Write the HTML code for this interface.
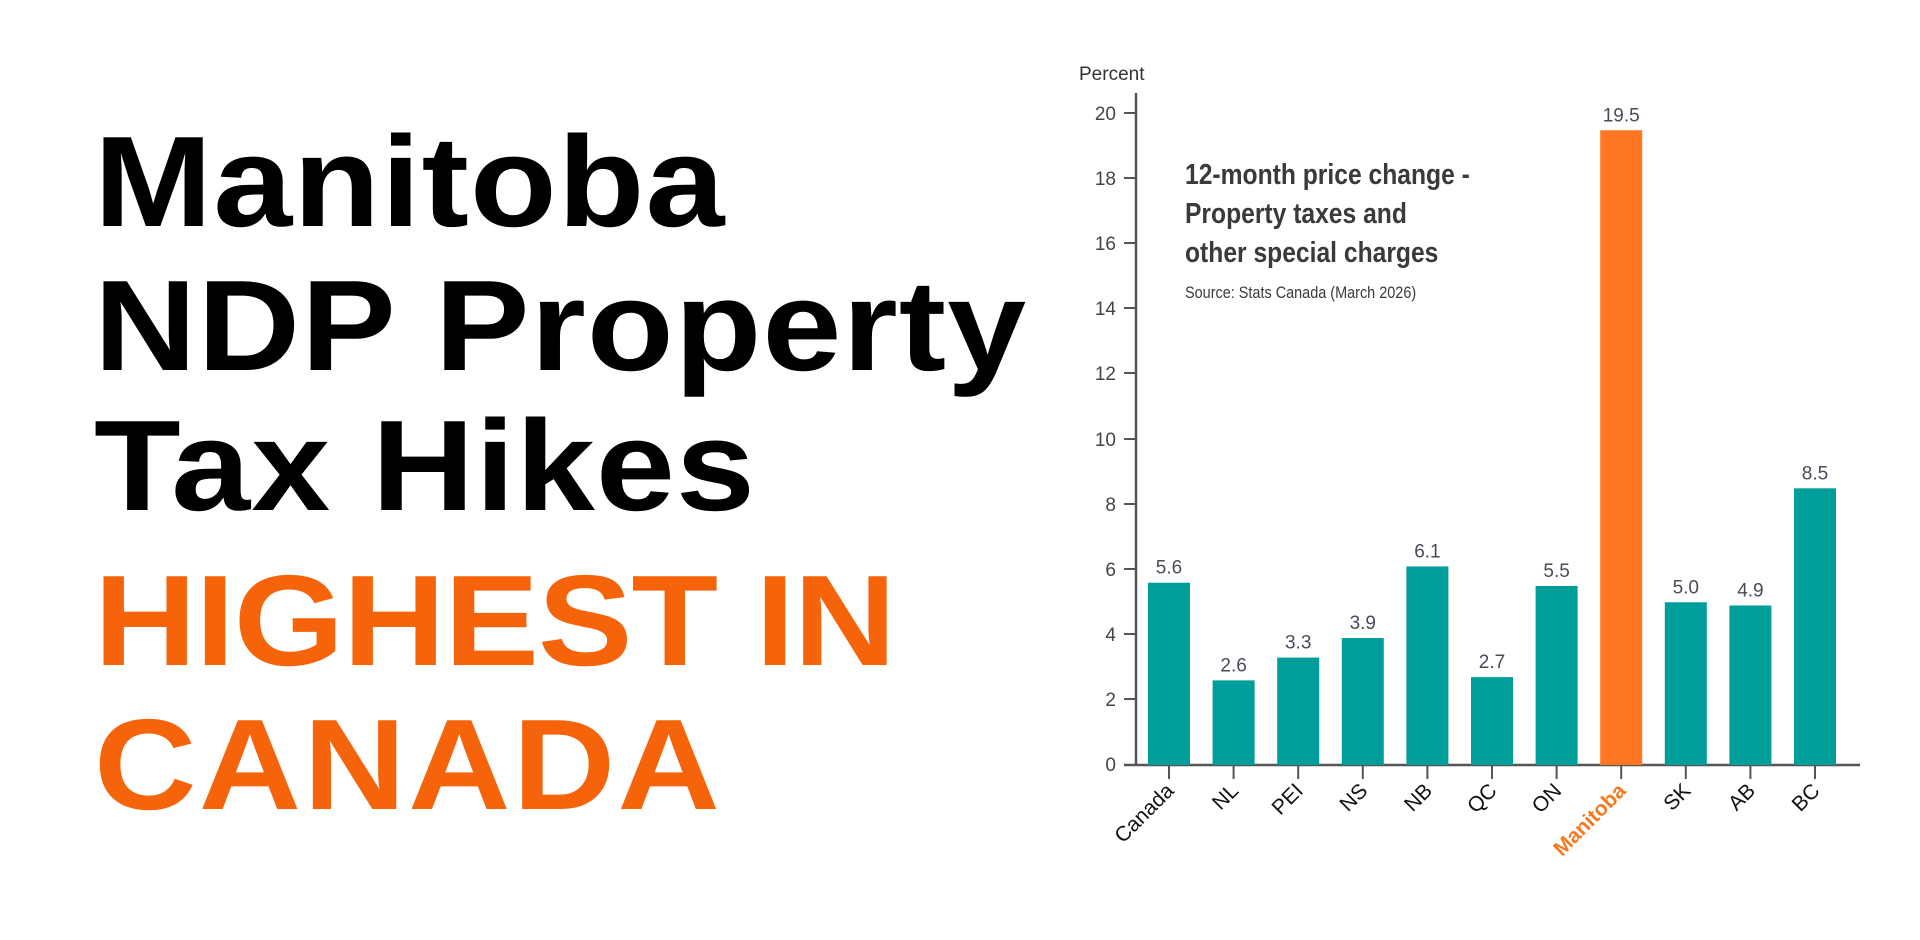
<!DOCTYPE html>
<html><head><meta charset="utf-8"><style>
html,body{margin:0;padding:0;background:#fff;width:1920px;height:940px;overflow:hidden}
.h{position:absolute;left:94px;font-family:"Liberation Sans",sans-serif;font-weight:bold;font-size:129px;line-height:1;white-space:nowrap;transform:scaleX(1.1);transform-origin:0 0}
</style></head><body>
<div class="h" style="top:118px;color:#000;letter-spacing:1px">Manitoba</div>
<div class="h" style="top:262px;color:#000;letter-spacing:1px">NDP Property</div>
<div class="h" style="top:402px;color:#000;letter-spacing:1px">Tax Hikes</div>
<div class="h" style="top:557px;color:#f5630a;letter-spacing:-1px">HIGHEST IN</div>
<div class="h" style="top:701px;color:#f5630a;letter-spacing:2px">CANADA</div>
<svg width="1920" height="940" style="position:absolute;left:0;top:0" font-family="Liberation Sans, sans-serif">
<text x="1079" y="80" font-size="19" fill="#333">Percent</text>
<line x1="1136" y1="93" x2="1136" y2="765" stroke="#555" stroke-width="2.5"/>
<line x1="1124" y1="765" x2="1860" y2="765" stroke="#555" stroke-width="2.5"/>
<g font-size="19" fill="#444" text-anchor="end">
<text x="1116" y="120">20</text><text x="1116" y="185">18</text><text x="1116" y="250">16</text><text x="1116" y="315">14</text><text x="1116" y="380">12</text><text x="1116" y="446">10</text><text x="1116" y="511">8</text><text x="1116" y="576">6</text><text x="1116" y="641">4</text><text x="1116" y="706">2</text><text x="1116" y="771">0</text>
</g>
<g stroke="#555" stroke-width="2">
<line x1="1124" y1="113" x2="1136" y2="113"/><line x1="1124" y1="178" x2="1136" y2="178"/><line x1="1124" y1="243" x2="1136" y2="243"/><line x1="1124" y1="308" x2="1136" y2="308"/><line x1="1124" y1="373" x2="1136" y2="373"/><line x1="1124" y1="439" x2="1136" y2="439"/><line x1="1124" y1="504" x2="1136" y2="504"/><line x1="1124" y1="569" x2="1136" y2="569"/><line x1="1124" y1="634" x2="1136" y2="634"/><line x1="1124" y1="699" x2="1136" y2="699"/>
</g>
<g transform="translate(1185,0) scale(0.85,1)" fill="#3a3a3a" font-weight="bold" font-size="29">
<text x="0" y="184">12-month price change -</text>
<text x="0" y="223">Property taxes and</text>
<text x="0" y="262">other special charges</text>
<text x="0" y="298" font-weight="normal" font-size="17">Source: Stats Canada (March 2026)</text>
</g>
<g id="bars"></g>
</svg>
<script>
const d=[["Canada",5.6],["NL",2.6],["PEI",3.3],["NS",3.9],["NB",6.1],["QC",2.7],["ON",5.5],["Manitoba",19.5],["SK",5.0],["AB",4.9],["BC",8.5]];
let s="";
d.forEach((e,i)=>{const cx=1169+i*64.6,h=e[1]*32.55,y=765-h,m=e[0]=="Manitoba";
s+=`<rect x="${cx-21}" y="${y}" width="42" height="${h}" fill="${m?'#ff7722':'#009e9a'}"/>`;
s+=`<text x="${cx}" y="${y-9}" font-size="19" fill="#4a4a5a" text-anchor="middle">${e[1].toFixed(1)}</text>`;
s+=`<line x1="${cx}" y1="765" x2="${cx}" y2="779" stroke="#555" stroke-width="2"/>`;
s+=`<text transform="translate(${cx+6},792) rotate(-45)" font-size="21" text-anchor="end" fill="${m?'#f47a20':'#111'}" ${m?'font-weight="bold"':''}>${e[0]}</text>`;});
document.getElementById("bars").innerHTML=s;
</script>
</body></html>
